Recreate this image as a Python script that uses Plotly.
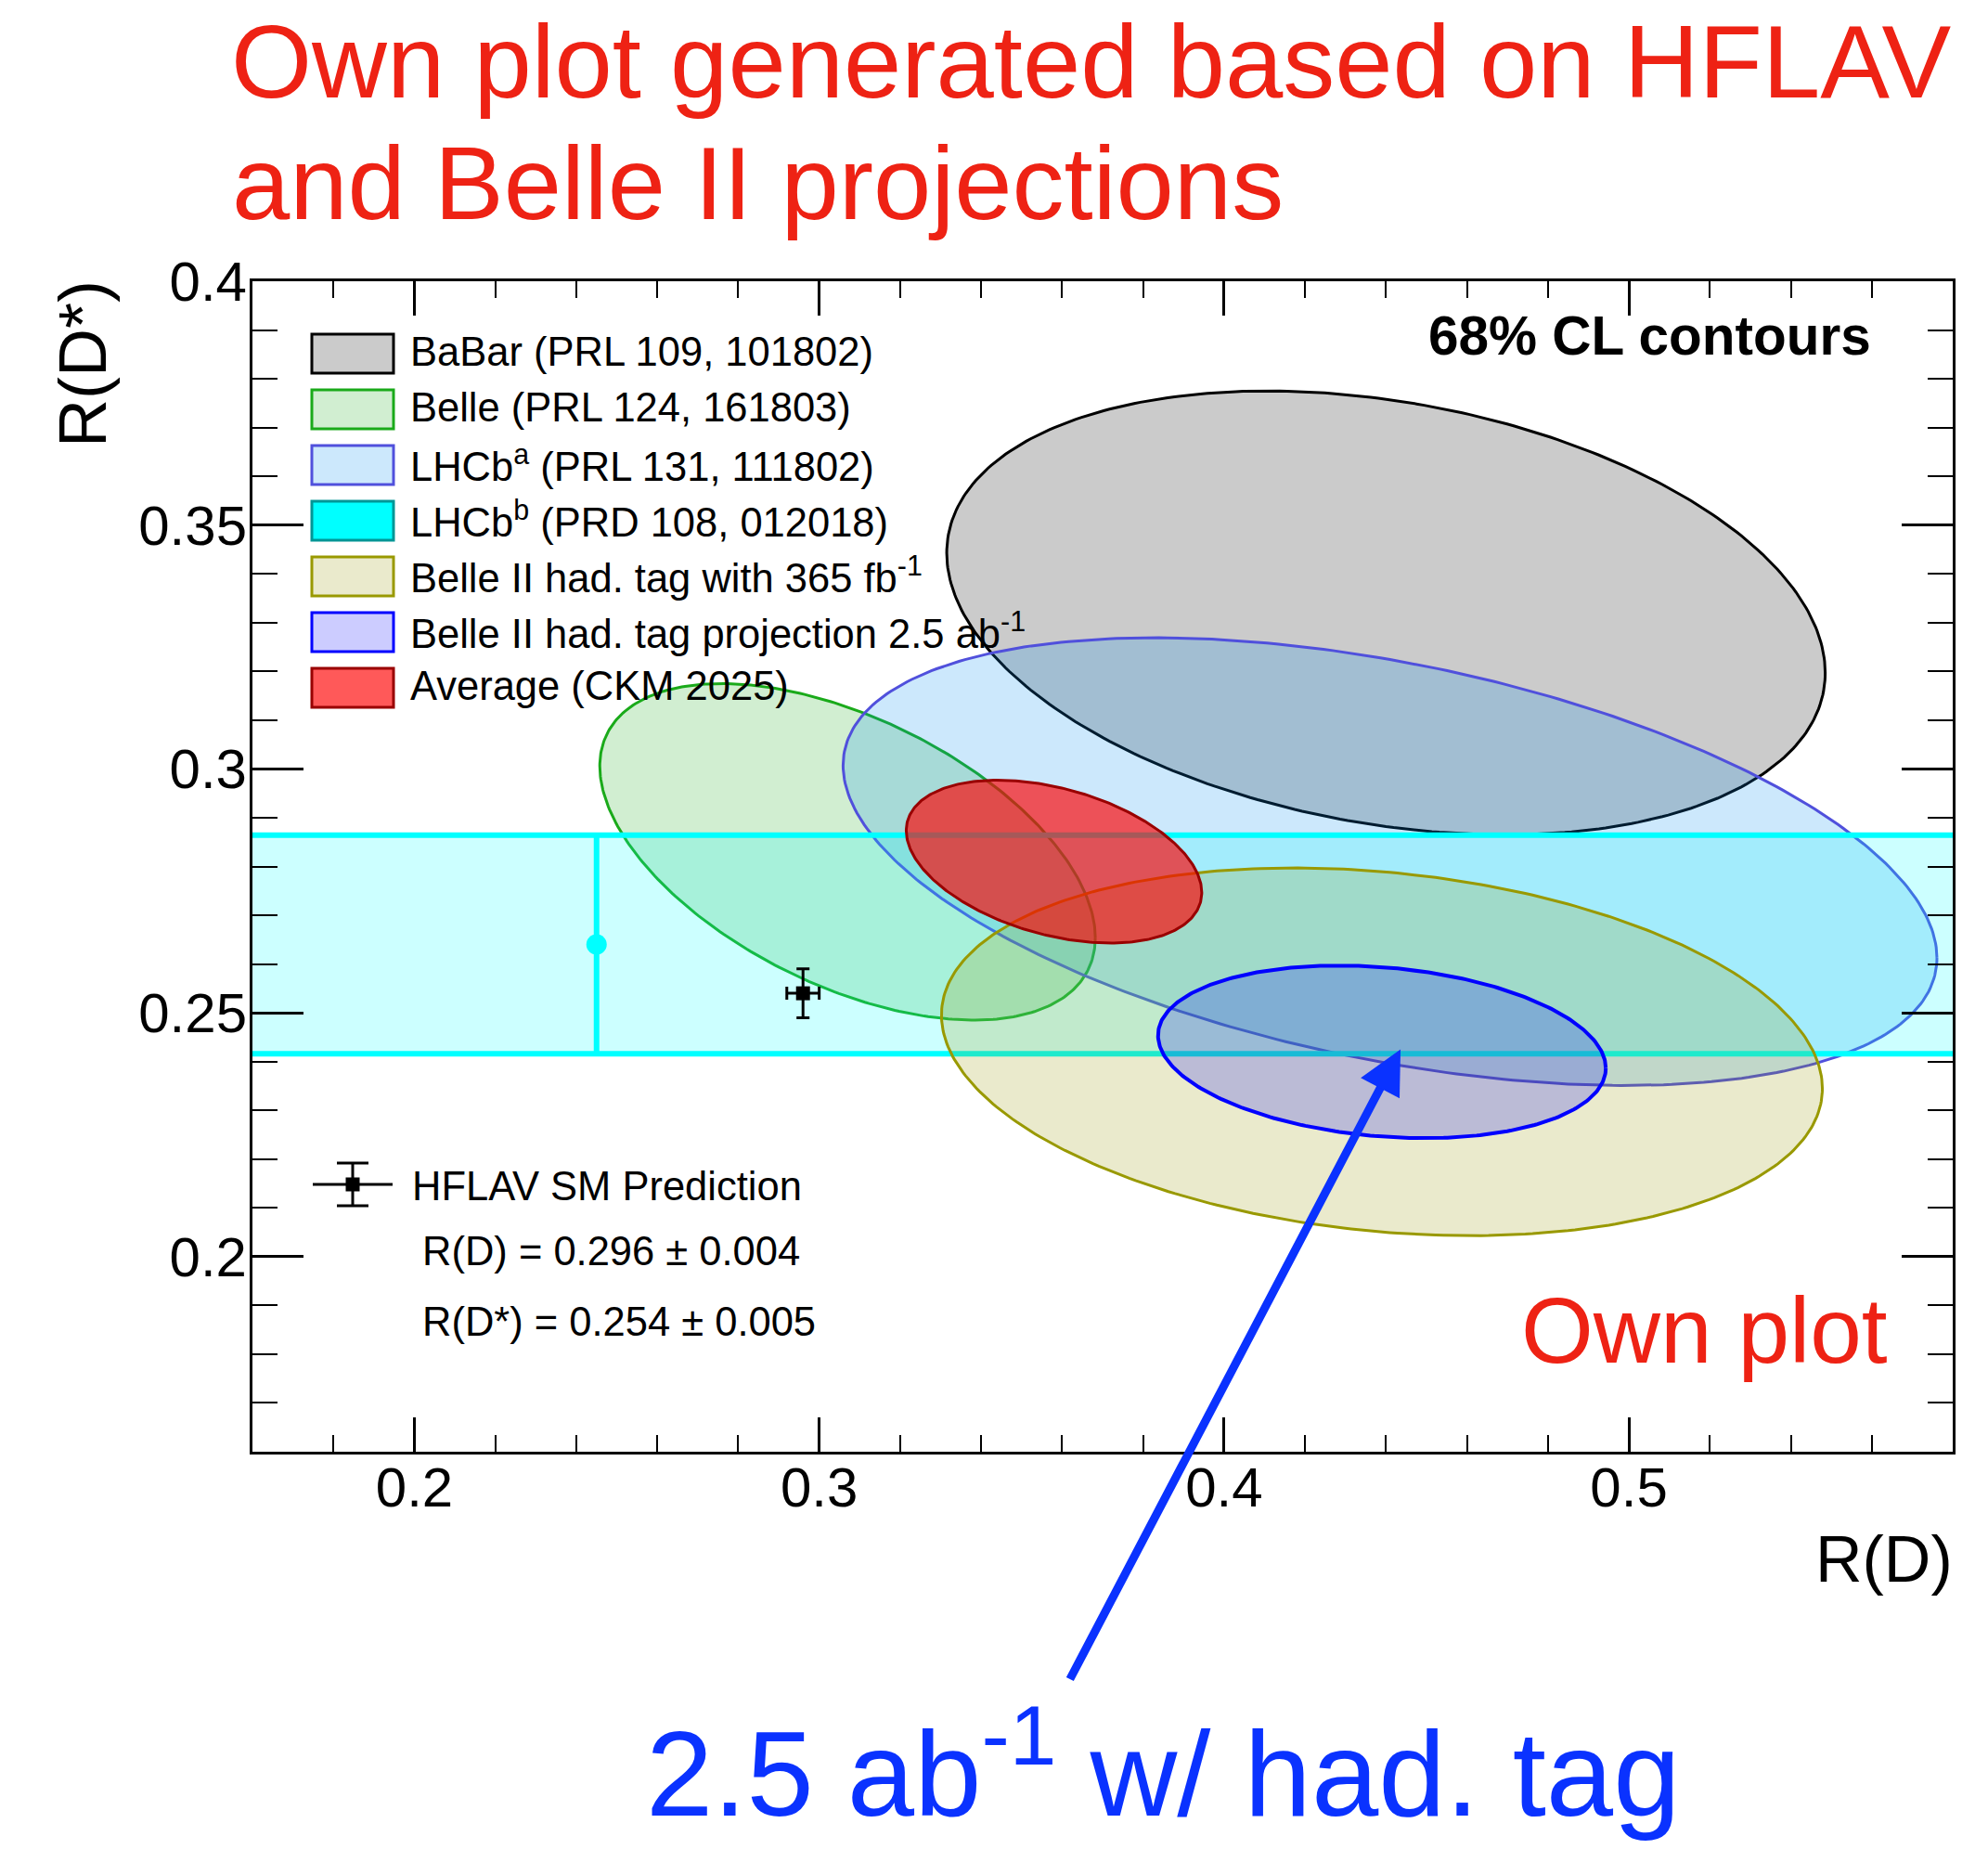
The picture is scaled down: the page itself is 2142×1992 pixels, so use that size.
import numpy as np
import plotly.graph_objects as go

# axis ranges
x_range = [0.16, 0.58]
y_range = [0.16, 0.40]

# 68% CL contours: centre, half extent along R(D) and R(D*), correlation
contour_names = [
    "BaBar (PRL 109, 101802)",
    "Belle (PRL 124, 161803)",
    "LHCb<sup>a</sup> (PRL 131, 111802)",
    "Belle II had. tag with 365 fb<sup>-1</sup>",
    "Belle II had. tag projection 2.5 ab<sup>-1</sup>",
    "Average (CKM 2025)",
]
centre_rd = [0.440, 0.307, 0.441, 0.439, 0.439, 0.358]
centre_rds = [0.332, 0.283, 0.281, 0.242, 0.242, 0.281]
half_rd = [0.1085, 0.0612, 0.1351, 0.1088, 0.0553, 0.0365]
half_rds = [0.0455, 0.0345, 0.0459, 0.0377, 0.0177, 0.0167]
corr = [-0.27, -0.51, -0.43, -0.20, -0.19, -0.38]

# LHCb^b: R(D*) only measurement (band)
lhcb_b_name = "LHCb<sup>b</sup> (PRD 108, 012018)"
lhcb_b_rds = 0.264
lhcb_b_err = 0.0224
lhcb_b_rd_pos = 0.245

# HFLAV SM prediction
sm_rd, sm_rd_err = 0.296, 0.004
sm_rds, sm_rds_err = 0.254, 0.005

# styles
fills = ["rgba(203,203,203,1)", "rgba(0,160,0,0.18)", "rgba(0,140,240,0.2)",
         "rgba(150,150,0,0.2)", "rgba(0,0,255,0.2)", "rgba(255,0,0,0.65)"]
lines = ["#000000", "#1aaa1a", "#5050dc", "#999900", "#0000ff", "#990000"]
widths = [3, 3, 3, 3, 4, 3]
band_fill = "rgba(0,255,255,0.2)"
CYAN = "#00ffff"
FONT = "Liberation Sans"
RED = "#ee2214"
BLUE = "#0a32ff"

# page geometry in pixels (the html body adds an 8px margin)
OFF = 8
W, H = 2142 - 2 * OFF, 1992 - 2 * OFF
L, R, T, B = 272, 2104, 303, 1564


def px(X):
    return (X - L) / (R - L)


def py(Y):
    return (B - Y) / (B - T)


def ellipse(i):
    t = np.linspace(0, 2 * np.pi, 361)
    phi = np.arccos(corr[i])
    x = centre_rd[i] + half_rd[i] * np.cos(t)
    y = centre_rds[i] + half_rds[i] * np.cos(t - phi)
    return go.Scatter(x=x, y=y, mode="lines", fill="toself", fillcolor=fills[i],
                      line=dict(color=lines[i], width=widths[i]),
                      showlegend=False, hoverinfo="skip")


fig = go.Figure()
for i in range(3):
    fig.add_trace(ellipse(i))

# LHCb^b band
lo, hi = lhcb_b_rds - lhcb_b_err, lhcb_b_rds + lhcb_b_err
fig.add_trace(go.Scatter(x=[x_range[0], x_range[1], x_range[1], x_range[0]], y=[lo, lo, hi, hi],
                         mode="lines", fill="toself", fillcolor=band_fill, line=dict(width=0),
                         showlegend=False, hoverinfo="skip"))
for yy in (lo, hi):
    fig.add_trace(go.Scatter(x=x_range, y=[yy, yy], mode="lines", line=dict(color=CYAN, width=6),
                             showlegend=False, hoverinfo="skip"))
fig.add_trace(go.Scatter(x=[lhcb_b_rd_pos], y=[lhcb_b_rds], mode="markers",
                         marker=dict(color=CYAN, size=22),
                         error_y=dict(type="data", array=[lhcb_b_err], color=CYAN, thickness=6, width=0),
                         showlegend=False, hoverinfo="skip"))

for i in range(3, 6):
    fig.add_trace(ellipse(i))

# SM prediction
fig.add_trace(go.Scatter(x=[sm_rd], y=[sm_rds], mode="markers",
                         marker=dict(symbol="square", color="black", size=15),
                         error_x=dict(type="data", array=[sm_rd_err], color="black", thickness=3, width=7),
                         error_y=dict(type="data", array=[sm_rds_err], color="black", thickness=3, width=7),
                         showlegend=False, hoverinfo="skip"))

shapes = []
annotations = []

# hand-made legend (boxes + labels)
leg_names = contour_names[:3] + [lhcb_b_name] + contour_names[3:]
leg_fill = fills[:3] + [CYAN] + fills[3:]
leg_line = lines[:3] + ["#009696"] + lines[3:]
for k, name in enumerate(leg_names):
    yc = 381 + 60 * k
    shapes.append(dict(type="rect", xref="paper", yref="paper",
                       x0=px(336), x1=px(424), y0=py(yc + 21), y1=py(yc - 21),
                       fillcolor=leg_fill[k], line=dict(color=leg_line[k], width=3)))
    annotations.append(dict(text=name, xref="paper", yref="paper", x=px(440), y=py(yc - 2),
                            xanchor="left", yanchor="middle", showarrow=False,
                            font=dict(family=FONT, size=43.5, color="black")))

# SM legend glyph
cx0, cy0 = 380, 1276
for (x0, y0, x1, y1) in [(337, cy0, 423, cy0), (cx0, 1253, cx0, 1299),
                         (363, 1253, 397, 1253), (363, 1299, 397, 1299)]:
    shapes.append(dict(type="line", xref="paper", yref="paper", x0=px(x0), y0=py(y0),
                       x1=px(x1), y1=py(y1), line=dict(color="black", width=3)))
shapes.append(dict(type="rect", xref="paper", yref="paper", x0=px(cx0 - 7.5), x1=px(cx0 + 7.5),
                   y0=py(cy0 + 7.5), y1=py(cy0 - 7.5), fillcolor="black", line=dict(width=0)))

sm_text = [("HFLAV SM Prediction", 442, 1278),
           (f"R(D) = {sm_rd:.3f} ± {sm_rd_err:.3f}", 453, 1348),
           (f"R(D*) = {sm_rds:.3f} ± {sm_rds_err:.3f}", 453, 1424)]
for txt, X, Y in sm_text:
    annotations.append(dict(text=txt, xref="paper", yref="paper", x=px(X), y=py(Y),
                            xanchor="left", yanchor="middle", showarrow=False,
                            font=dict(family=FONT, size=43.5, color="black")))

annotations += [
    dict(text="<b>68% CL contours</b>", xref="paper", yref="paper", x=px(2018), y=py(362),
         xanchor="right", yanchor="middle", showarrow=False, font=dict(family=FONT, size=58.5, color="black")),
    dict(text="R(D)", xref="paper", yref="paper", x=px(2106), y=py(1680),
         xanchor="right", yanchor="middle", showarrow=False, font=dict(family=FONT, size=70, color="black")),
    dict(text="R(D*)", xref="paper", yref="paper", x=px(89), y=py(300), textangle=-90,
         xanchor="center", yanchor="top", showarrow=False, font=dict(family=FONT, size=72, color="black")),
    dict(text="Own plot generated based on HFLAV", xref="paper", yref="paper", x=px(248), y=py(66),
         xanchor="left", yanchor="middle", showarrow=False, borderpad=0,
         font=dict(family=FONT, size=112, color=RED)),
    dict(text="and Belle II projections", xref="paper", yref="paper", x=px(248), y=py(197),
         xanchor="left", yanchor="middle", showarrow=False, font=dict(family=FONT, size=112, color=RED)),
    dict(text="Own plot", xref="paper", yref="paper", x=px(1637), y=py(1433),
         xanchor="left", yanchor="middle", showarrow=False, font=dict(family=FONT, size=100, color=RED)),
    dict(text="2.5 ab<sup>-1</sup> w/ had. tag", xref="paper", yref="paper", x=px(695), y=py(1901),
         xanchor="left", yanchor="middle", showarrow=False, borderpad=0,
         font=dict(family=FONT, size=130, color=BLUE)),
    dict(text="", x=0.4436, y=0.2425, xref="x", yref="y", axref="pixel", ayref="pixel",
         ax=-357, ay=680, showarrow=True, arrowhead=2, arrowsize=1.05, arrowwidth=9, arrowcolor=BLUE),
]

tickfont = dict(family=FONT, size=60, color="black")
fig.update_layout(
    width=W, height=H,
    margin=dict(l=L - OFF, r=W - (R - OFF), t=T - OFF, b=H - (B - OFF)),
    paper_bgcolor="white", plot_bgcolor="white",
    shapes=shapes, annotations=annotations,
    xaxis=dict(range=x_range, tick0=0, dtick=0.1, ticks="inside", ticklen=37, tickwidth=3,
               tickcolor="black", showline=True, linewidth=3, linecolor="black", mirror="allticks",
               showgrid=False, zeroline=False, tickfont=tickfont, ticklabelstandoff=-16,
               minor=dict(tick0=0, dtick=0.02, ticks="inside", ticklen=18, tickwidth=2,
                          tickcolor="black", showgrid=False)),
    yaxis=dict(range=y_range, tick0=0, dtick=0.05, ticks="inside", ticklen=55, tickwidth=3,
               tickcolor="black", showline=True, linewidth=3, linecolor="black", mirror="allticks",
               showgrid=False, zeroline=False, tickfont=tickfont, ticklabelstandoff=-9,
               minor=dict(tick0=0, dtick=0.01, ticks="inside", ticklen=27, tickwidth=2,
                          tickcolor="black", showgrid=False)),
)

fig.write_html("out.html")
